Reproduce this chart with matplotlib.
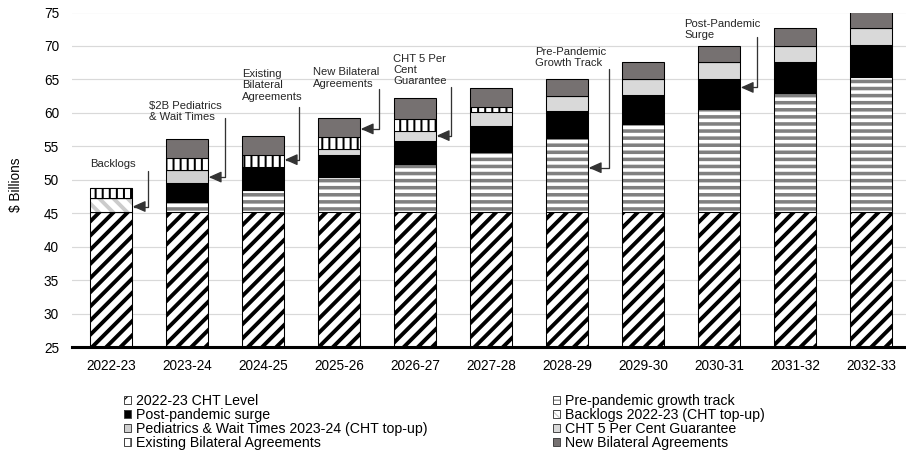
"""
CHT funding stacked bars, 2022-23 to 2032-33
"""
import matplotlib
matplotlib.use('Agg')
import matplotlib.pyplot as plt
from matplotlib.patches import Patch
from matplotlib.legend_handler import HandlerTuple
import numpy as np

# data ($ billions)
years = ['2022-23', '2023-24', '2024-25', '2025-26', '2026-27', '2027-28',
         '2028-29', '2029-30', '2030-31', '2031-32', '2032-33']
cht_level = [45.2, 45.2, 45.2, 45.2, 45.2, 45.2, 45.2, 45.2, 45.2, 45.2, 45.2]
pre_pandemic = [0, 1.5, 3.25, 5.2, 7.1, 9.0, 11.1, 13.1, 15.35, 17.7, 20.2]
post_pandemic = [0, 2.8, 3.5, 3.25, 3.5, 3.85, 4.0, 4.35, 4.5, 4.65, 4.75]
backlogs = [2.0, 0, 0, 0, 0, 0, 0, 0, 0, 0, 0]
pediatrics = [0, 1.9, 0, 0, 0, 0, 0, 0, 0, 0, 0]
guarantee = [0, 0, 0, 1.0, 1.55, 2.15, 2.25, 2.35, 2.5, 2.5, 2.5]
existing_bilateral = [1.5, 1.85, 1.75, 1.8, 1.8, 0.65, 0, 0, 0, 0, 0]
new_bilateral = [0, 2.85, 2.9, 2.85, 3.0, 2.85, 2.55, 2.55, 2.5, 2.6, 2.6]

# label, values, face, hatch, hatch colour, hatch width
series = [
    ('2022-23 CHT Level', cht_level, 'white', '//', 'black', 3.3),
    ('Pre-pandemic growth track', pre_pandemic, 'white', '--', '#808080', 3.0),
    ('Post-pandemic surge', post_pandemic, 'black', None, 'black', 1.0),
    ('Backlogs 2022-23 (CHT top-up)', backlogs, 'white', '\\\\', '#cccccc', 3.3),
    ('Pediatrics & Wait Times 2023-24 (CHT top-up)', pediatrics, '#d0d0d0', None, '#d0d0d0', 1.0),
    ('CHT 5 Per Cent Guarantee', guarantee, '#d9d9d9', None, '#d9d9d9', 1.0),
    ('Existing Bilateral Agreements', existing_bilateral, 'white', '||', 'black', 1.7),
    ('New Bilateral Agreements', new_bilateral, '#767171', None, '#767171', 1.0),
]

# callouts: text, text x, text y, line x, line top, bar index, arrow y
callouts = [
    ('Backlogs', -0.28, 52.4, 0.49, 51.35, 0, 46.0),
    ('$2B Pediatrics\n& Wait Times', 0.5, 60.2, 1.5, 59.3, 1, 50.4),
    ('Existing\nBilateral\nAgreements', 1.72, 64.1, 2.47, 60.8, 2, 53.0),
    ('New Bilateral\nAgreements', 2.66, 65.2, 3.53, 63.6, 3, 57.6),
    ('CHT 5 Per\nCent\nGuarantee', 3.71, 66.4, 4.47, 63.9, 4, 56.6),
    ('Pre-Pandemic\nGrowth Track', 5.58, 68.3, 6.55, 66.6, 6, 51.8),
    ('Post-Pandemic\nSurge', 7.54, 72.5, 8.5, 71.4, 8, 63.8),
]

plt.rcParams['font.family'] = ['Liberation Sans', 'DejaVu Sans']

DPI = 85
fig = plt.figure(figsize=(906 / DPI, 459 / DPI), dpi=DPI)
ax = fig.add_axes([72 / 906, 1 - 347 / 459, 834 / 906, 334.5 / 459])

x = np.arange(len(years))
width = 0.553
bottom = np.zeros(len(years))
handles = []
for label, vals, face, hatch, hcol, hlw in series:
    vals = np.array(vals, dtype=float)
    plt.rcParams['hatch.linewidth'] = hlw
    bars = ax.bar(x, vals, width, bottom=bottom, color=face, hatch=hatch,
                  edgecolor=hcol, linewidth=0)
    for b in bars:
        if hasattr(b, 'set_hatch_linewidth'):
            b.set_hatch_linewidth(hlw)
    ax.bar(x, vals, width, bottom=bottom, fill=False, edgecolor='black', linewidth=0.9)
    h = Patch(facecolor=face, hatch=hatch, edgecolor=hcol, linewidth=0)
    if hasattr(h, 'set_hatch_linewidth'):
        h.set_hatch_linewidth(min(hlw, 1.5))
    handles.append((h, Patch(fill=False, edgecolor='#404040', linewidth=0.8)))
    bottom += vals

# callout arrows
for text, tx, ty, lx, ly, i, vy in callouts:
    ax.text(tx, ty, text, ha='left', va='center', fontsize=9.5, color='#262626',
            linespacing=1.15)
    ax.annotate('', xy=(i + width / 2 + 0.01, vy), xytext=(lx, ly),
                arrowprops=dict(arrowstyle='-|>,head_length=0.9,head_width=0.4',
                                connectionstyle='angle,angleA=90,angleB=0,rad=0',
                                color='#333333', lw=1.1, shrinkA=0, shrinkB=0,
                                mutation_scale=10))

ax.set_xlim(-0.513, 10.46)
ax.set_ylim(25, 75)
ax.set_yticks(range(25, 80, 5))
ax.set_xticks(x)
ax.set_xticklabels(years)
ax.tick_params(axis='both', length=0, labelsize=11.5)
ax.tick_params(axis='x', pad=10)
ax.tick_params(axis='y', pad=11)
ax.set_ylabel('$ Billions', fontsize=11.5)
ax.yaxis.set_label_coords(-0.059, 0.485)

ax.yaxis.grid(True, color='#d9d9d9', linewidth=1)
ax.set_axisbelow(True)
for s in ['left', 'right', 'top']:
    ax.spines[s].set_visible(False)
ax.spines['bottom'].set_linewidth(2.6)
ax.spines['bottom'].set_color('black')

# legend: two columns placed separately
leg_kw = dict(handler_map={tuple: HandlerTuple(ndivide=1, pad=0)},
              loc='upper left', frameon=False, fontsize=12,
              handlelength=0.5, handleheight=0.5, handletextpad=0.35,
              labelspacing=0.0, borderpad=0, borderaxespad=0)
for col, x0 in [([0, 2, 4, 6], 124), ([1, 3, 5, 7], 553)]:
    fig.legend([handles[k] for k in col], [series[k][0] for k in col],
               bbox_to_anchor=(x0 / 906, 1 - 394 / 459), **leg_kw)

fig.savefig('out.png', dpi=DPI)
